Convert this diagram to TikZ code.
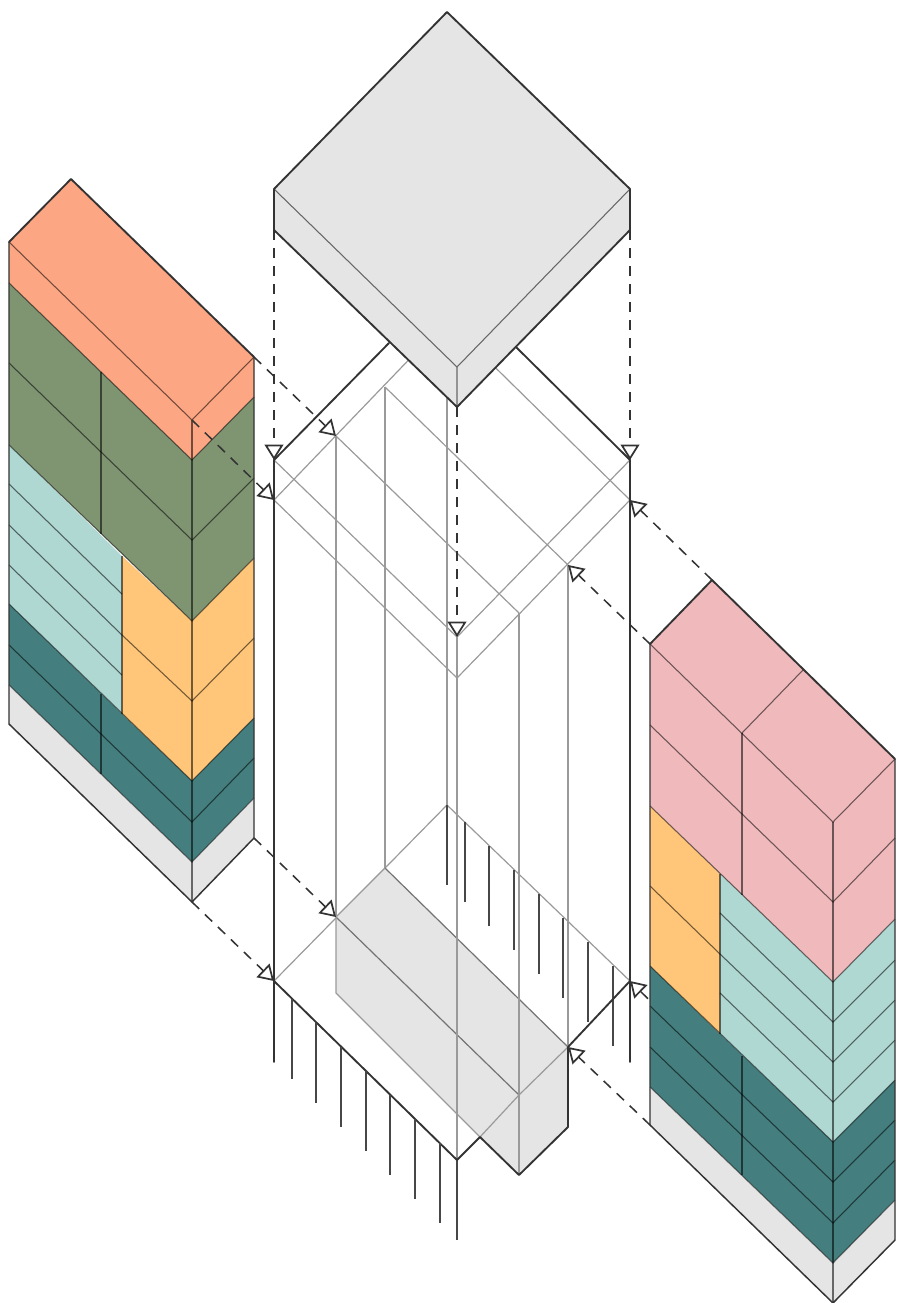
\documentclass[tikz,border=0pt]{standalone}
\usetikzlibrary{arrows.meta}
\definecolor{cGray}{HTML}{E5E5E5}
\definecolor{cOrange}{HTML}{FDA683}
\definecolor{cGreen}{HTML}{7F9572}
\definecolor{cMint}{HTML}{B0D8D2}
\definecolor{cYellow}{HTML}{FFC578}
\definecolor{cTeal}{HTML}{447E7E}
\definecolor{cPink}{HTML}{F0B9BC}
\definecolor{cInk}{HTML}{333333}
\definecolor{cThin}{HTML}{9A9A9A}
\tikzset{
  heavy/.style={draw=cInk,line width=1.4pt,line join=round,line cap=round},
  pile/.style={draw=cInk!90,line width=1.1pt},
  thin gray/.style={draw=cThin,line width=.9pt},
  seam/.style={draw=black,draw opacity=.55,line width=.8pt},
  blockedge/.style={draw=cInk,line width=1.1pt},
  explode/.style={draw=cInk,line width=1.15pt,dash pattern=on 7.5pt off 6pt,
    -{Triangle[length=11.5pt,width=14pt,fill=white,line width=1.3pt]}},
}
\begin{document}
\begin{tikzpicture}[x=.75pt,y=-.75pt]
\useasboundingbox (0,0) rectangle (908,1303);
% named points of the exploded assembly
\coordinate (slabL) at (274,230);
\coordinate (slabR) at (630,230);
\coordinate (slabB) at (457,407);
\coordinate (towerL) at (274,460);
\coordinate (towerR) at (630,460);
\coordinate (towerF) at (457,637);
\coordinate (capL) at (274,500);
\coordinate (capR) at (630,500);
\coordinate (capF) at (457,678);
\coordinate (coreA) at (336,436);
\coordinate (coreB) at (568,565);
\coordinate (baseL) at (274,981);
\coordinate (baseR) at (630,981);
\coordinate (baseF) at (457,1160);
\coordinate (baseK) at (447,805);
\coordinate (coreC) at (336,917);
\coordinate (coreD) at (568,1047);
\coordinate (leftA) at (254,357);
\coordinate (leftB) at (192,420);
\coordinate (leftC) at (254,838);
\coordinate (leftD) at (192,902);
\coordinate (rightA) at (712,580);
\coordinate (rightB) at (650,644);
\coordinate (rightC) at (650,1125);
\coordinate (rightD) at (712,1062);

% tower wireframe
\draw[thin gray] (towerL) -- (towerF) (towerR) -- (towerF);
\draw[thin gray] (capL) -- (447,320) (capR) -- (447,320) (capL) -- (capF) -- (capR);
\draw[thin gray] (coreA) -- (519,613) (385,387) -- (coreB);
\draw[thin gray] (447,320) -- (baseK);
\draw[thin gray] (coreA) -- (coreC) (385,387) -- (385,868);
\draw[thin gray] (towerF) -- (baseF);
\draw[heavy] (towerL) -- (389,343) (towerR) -- (516,347);
% base plate
\draw[thin gray] (baseL) -- (baseK) -- (baseR);
\draw[heavy] (baseL) -- (baseF);
% back piles
\foreach \x/\y in {447/805,465/822,489/846,514/870,539/894,563/918,588/942,613/966}
  \draw[pile] (\x,\y) -- (\x,\y+80);
% front piles
\foreach \x/\y in {292/999,316/1023,341/1047,366/1071,390/1095,415/1119,440/1143}
  \draw[pile] (\x,\y) -- (\x,\y+80);
\draw[heavy,line width=1.2pt] (towerL) -- (274,1062) (towerR) -- (630,1062);
\draw[pile] (baseF) -- (457,1240);
% core
\fill[cGray] (385,868) -- (coreD) -- (568,1127) -- (519,1175) -- (336,993) -- (coreC) -- cycle;
\draw[thin gray,draw=black!55] (385,868) -- (coreD) (coreC) -- (519,1095);
\draw[thin gray] (385,868) -- (coreC) -- (336,993) -- (480,1137);
\draw[thin gray] (519,1095) -- (coreD) (519,1095) -- (480,1137);
\draw[thin gray] (519,613) -- (519,1175) (coreB) -- (coreD);
\draw[thin gray] (457,1137) -- (457,900);
\draw[heavy] (baseF) -- (480,1137) (480,1137) -- (519,1175) -- (568,1127) -- (coreD) (coreD) -- (baseR);

% roof slab
\fill[cGray] (447,12) -- (630,189) -- (slabR) -- (slabB) -- (slabL) -- (274,189) -- cycle;
\draw[seam] (274,189) -- (457,367) -- (630,189) (457,367) -- (slabB);
\draw[heavy] (slabL) -- (274,189) -- (447,12) -- (630,189) -- (slabR) -- (slabB) -- cycle;

% left block
\fill[cOrange] (9,242) -- (71,179) -- (254,357) -- (254,397) -- (192,460) -- (9,283) -- cycle;
\fill[cGreen] (9,283) -- (192,460) -- (254,397) -- (254,558) -- (192,621) -- (9,445) -- cycle;
\fill[cMint] (9,445) -- (122,556) -- (122,714) -- (9,604) -- cycle;
\fill[cYellow] (122,556) -- (192,621) -- (254,558) -- (254,718) -- (192,781) -- (122,714) -- cycle;
\fill[cTeal] (9,604) -- (122,714) -- (192,781) -- (254,718) -- (254,798) -- (192,862) -- (9,685) -- cycle;
\fill[cGray] (9,685) -- (192,862) -- (254,798) -- (254,838) -- (192,902) -- (9,724) -- cycle;
\draw[seam] (9,242) -- (leftB) -- (leftA) (9,283) -- (192,460) -- (254,397);
\draw[seam] (9,363) -- (192,540) -- (254,478);
\draw[seam] (9,445) -- (192,621) -- (254,558);
\draw[seam] (9,484) -- (122,594) (9,525) -- (122,635) (9,565) -- (122,675);
\draw[seam] (122,635) -- (192,701) -- (254,638);
\draw[seam] (9,604) -- (192,781) -- (254,718);
\draw[seam] (9,645) -- (192,822) -- (254,758);
\draw[seam] (9,685) -- (192,862) -- (254,798);
\draw[seam] (122,556) -- (122,714);
\draw[seam] (101,372) -- (101,534) (101,694) -- (101,774);
\draw[seam] (leftB) -- (leftD);
\draw[blockedge] (9,242) -- (9,724) -- (leftD) -- (leftC) -- (leftA);
\draw[heavy] (9,242) -- (71,179) -- (leftA);

% arrows from the left block
\draw[explode] (leftA) -- (coreA);
\draw[explode] (leftB) -- (capL);
\draw[explode] (leftC) -- (coreC);
\draw[explode] (leftD) -- (baseL);
% arrow whose tail goes behind the right block
\draw[explode] (rightD) -- (baseR);

% right block
\fill[cPink] (650,644) -- (rightA) -- (895,759) -- (895,919) -- (833,982) -- (720,874) -- (650,806) -- cycle;
\fill[cYellow] (650,806) -- (720,874) -- (720,1034) -- (650,966) -- cycle;
\fill[cMint] (720,874) -- (833,982) -- (895,919) -- (895,1080) -- (833,1142) -- (720,1034) -- cycle;
\fill[cTeal] (650,966) -- (720,1034) -- (833,1142) -- (895,1080) -- (895,1200) -- (833,1263) -- (650,1087) -- cycle;
\fill[cGray] (650,1087) -- (833,1263) -- (895,1200) -- (895,1240) -- (833,1303) -- (650,1125) -- cycle;
\draw[seam] (rightB) -- (833,822) -- (895,759) (742,733) -- (803,670);
\draw[seam] (742,733) -- (742,895) (742,1056) -- (742,1175);
\draw[seam] (650,725) -- (833,902) -- (895,838);
\draw[seam] (650,806) -- (833,982) -- (895,919);
\draw[seam] (650,886) -- (720,954);
\draw[seam] (720,874) -- (720,1034);
\draw[seam] (720,913) -- (833,1022) -- (895,960);
\draw[seam] (720,954) -- (833,1062) -- (895,1000);
\draw[seam] (720,993) -- (833,1102) -- (895,1040);
\draw[seam] (650,966) -- (833,1142) -- (895,1080);
\draw[seam] (650,1006) -- (833,1182) -- (895,1120);
\draw[seam] (650,1047) -- (833,1223) -- (895,1160);
\draw[seam] (650,1087) -- (833,1263) -- (895,1200);
\draw[seam] (833,822) -- (833,1303);
\draw[blockedge] (rightB) -- (rightC) -- (833,1303) -- (895,1240) -- (895,759);
\draw[heavy] (rightB) -- (rightA) -- (895,759);

% remaining arrows
\draw[explode] (slabL) -- (towerL);
\draw[explode] (slabR) -- (towerR);
\draw[explode] (slabB) -- (towerF);
\draw[explode] (rightA) -- (capR);
\draw[explode] (rightB) -- (coreB);
\draw[explode] (rightC) -- (coreD);
\end{tikzpicture}
\end{document}
